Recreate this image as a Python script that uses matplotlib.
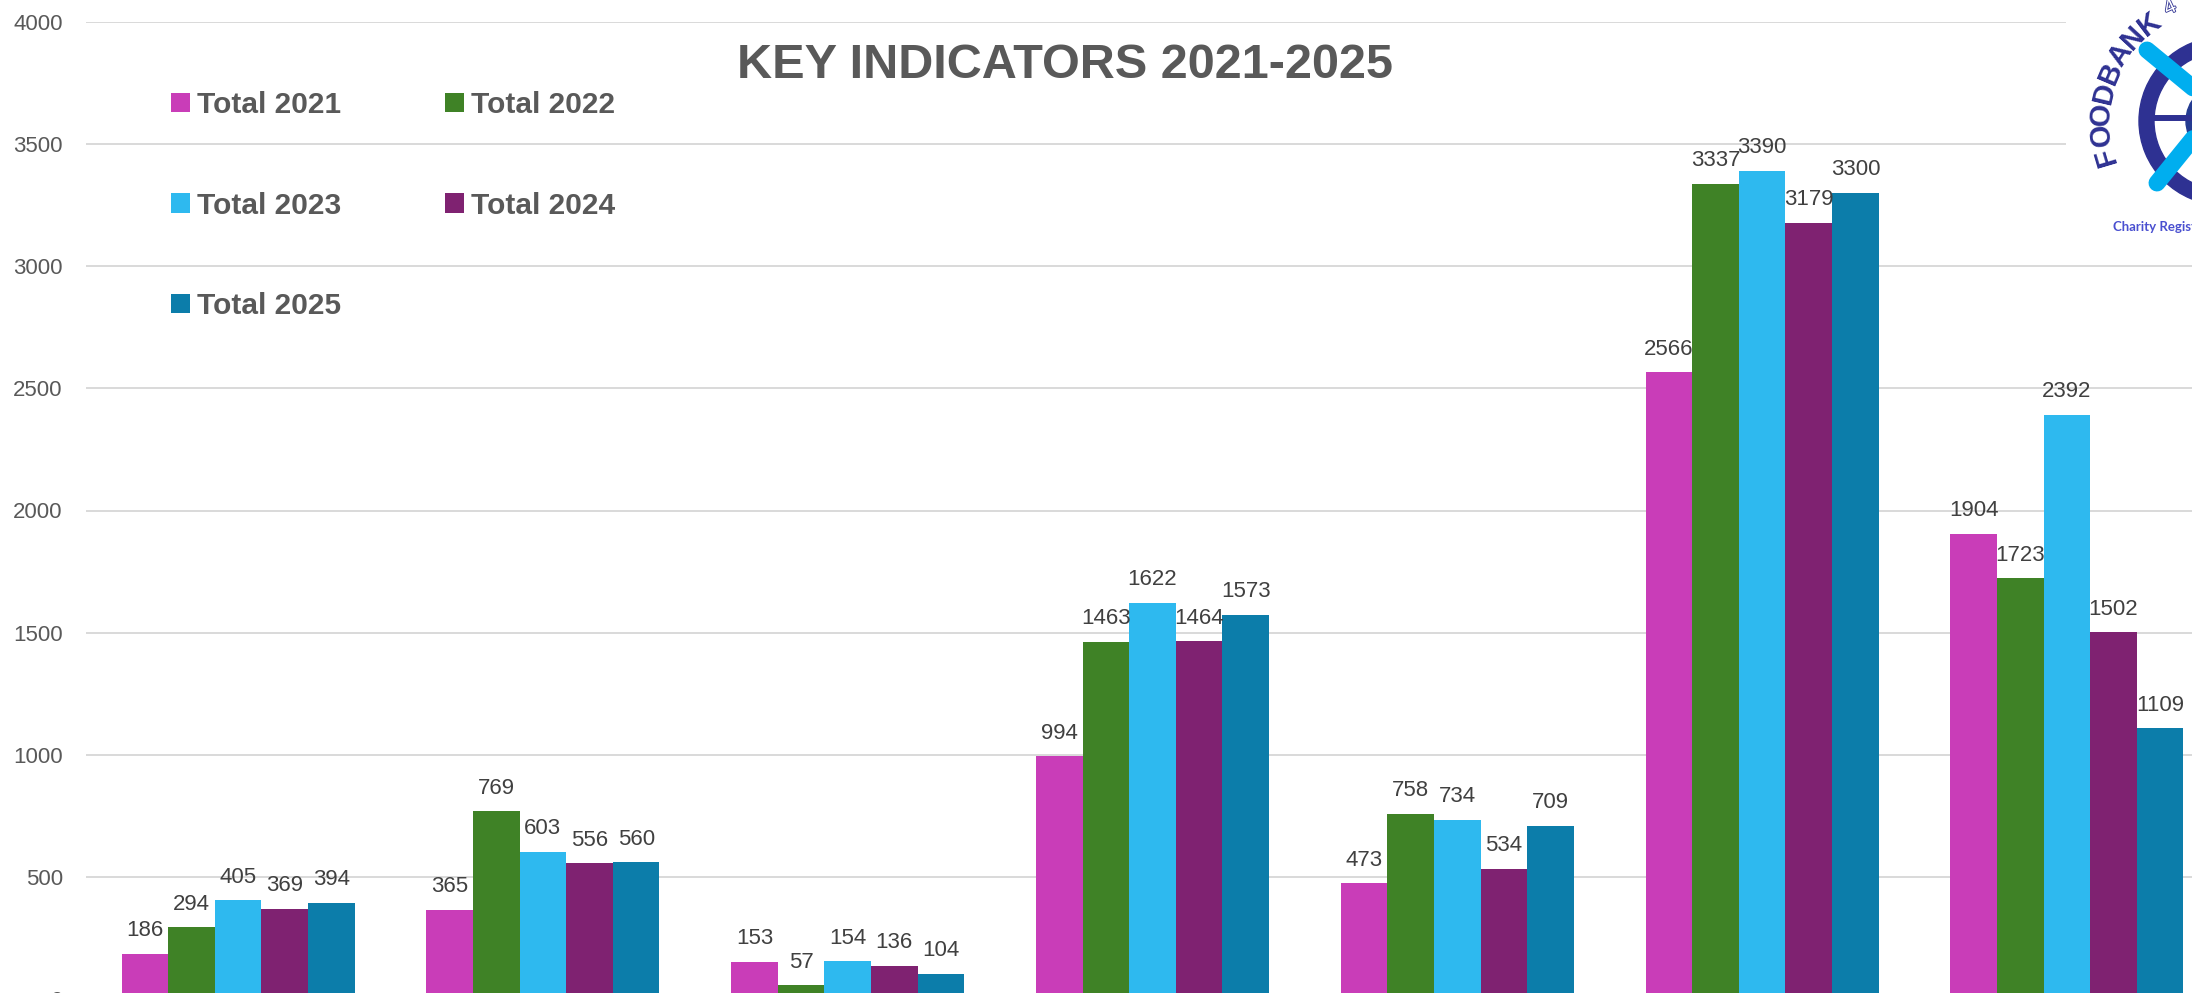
import numpy as np
import matplotlib
matplotlib.use('Agg')
import matplotlib.pyplot as plt
from matplotlib.patches import Patch, Wedge, Circle
import matplotlib.patheffects as pe

plt.rcParams['font.family'] = ['Liberation Sans', 'DejaVu Sans']

W, H = 2192, 993

# data (x labels are cut off in the reference)
series = ['Total 2021', 'Total 2022', 'Total 2023', 'Total 2024', 'Total 2025']
v2021 = [186, 365, 153, 994, 473, 2566, 1904]
v2022 = [294, 769, 57, 1463, 758, 3337, 1723]
v2023 = [405, 603, 154, 1622, 734, 3390, 2392]
v2024 = [369, 556, 136, 1464, 534, 3179, 1502]
v2025 = [394, 560, 104, 1573, 709, 3300, 1109]
yticks = [0, 500, 1000, 1500, 2000, 2500, 3000, 3500, 4000]
colors = ['#C93DB8', '#3F8226', '#2EB9EF', '#7F2271', '#0C7DAA']

values = [v2021, v2022, v2023, v2024, v2025]
groups = np.arange(len(v2021))

fig = plt.figure(figsize=(W/100, H/100), dpi=100)
fig.patch.set_facecolor('white')

# axes runs past the right and bottom edge, like the cropped original
left = 85.7/W
bot = (H-999)/H
top = (H-22)/H
ax = fig.add_axes([left, bot, 2133.6/W, top-bot])

bw = 0.153
for i, (vals, c) in enumerate(zip(values, colors)):
    xs = groups + (i-2)*bw
    bars = ax.bar(xs, vals, bw, color=c, linewidth=0, label=series[i])
    for x, v in zip(xs, vals):
        ax.annotate(str(v), (x, v), xytext=(0, 9), textcoords='offset points',
                    ha='center', va='bottom', fontsize=16, color='#404040')

ax.set_xlim(-0.5, len(groups)-0.5)
ax.set_ylim(0, 4000)
ax.set_yticks(yticks)
ax.set_xticks([])
ax.tick_params(axis='y', length=0, pad=16.5, labelsize=16, labelcolor='#595959')
ax.yaxis.grid(True, color='#D9D9D9', linewidth=1.4)
ax.set_axisbelow(True)
for s in ax.spines.values():
    s.set_visible(False)

fig.text(1065/W, 1-65/H, 'KEY INDICATORS 2021-2025', ha='center', va='center',
         fontsize=35, fontweight='bold', color='#595959')

# legend, row-major like the original
hs = [Patch(facecolor=c, edgecolor='none') for c in colors]
order = [0, 2, 4, 1, 3]
ax.legend([hs[k] for k in order], [series[k] for k in order], ncol=2,
          loc='upper left', bbox_to_anchor=(171/W, 1-91/H),
          bbox_transform=fig.transFigure, frameon=False, borderpad=0,
          borderaxespad=0, handlelength=0.62, handleheight=0.62,
          handletextpad=0.24, labelspacing=2.43, columnspacing=3.5,
          prop={'weight': 'bold', 'size': 21.5}, labelcolor='#595959')

# logo in the top right corner (pixel coords)
lg = fig.add_axes([2066/W, 1-250/H, 126/W, 250/H])
lg.set_xlim(2066, 2192)
lg.set_ylim(250, 0)
lg.set_xticks([])
lg.set_yticks([])
for s in lg.spines.values():
    s.set_visible(False)
lg.set_facecolor('white')

navy = '#2E3192'
cx, cy = 2223, 121
lg.add_patch(Wedge((cx, cy), 84, 0, 360, width=15, color=navy))
lg.plot([2152, cx], [118, 118], color=navy, lw=4.3)
lg.add_patch(Circle((cx, cy), 37, color='#243B91'))
lg.plot([2147, 2300], [50, 176], color='#00AEEF', lw=12.2, solid_capstyle='round')
lg.plot([2157, 2260], [183, 56], color='#00AEEF', lw=12.2, solid_capstyle='round')

word = 'FOODBANK'
for k, ch in enumerate(word):
    th = np.radians(196.5 - k*9.9)
    r = 122
    lg.text(cx + r*np.cos(th), cy - r*np.sin(th), ch, rotation=np.degrees(th)-90,
            ha='center', va='center', fontsize=21, fontweight='bold', color=navy,
            rotation_mode='anchor')
th = np.radians(115)
lg.text(cx + 125*np.cos(th), cy - 125*np.sin(th), '4', rotation=25, ha='center',
        va='center', fontsize=15, color='white', rotation_mode='anchor',
        path_effects=[pe.Stroke(linewidth=1.2, foreground=navy), pe.Normal()])
lg.text(2113, 227, 'Charity Regist', ha='left', va='center', fontsize=9.5,
        fontweight='bold', color='#4A50D0', family=['Lato', 'DejaVu Sans'])

fig.savefig('out.png', dpi=100)
